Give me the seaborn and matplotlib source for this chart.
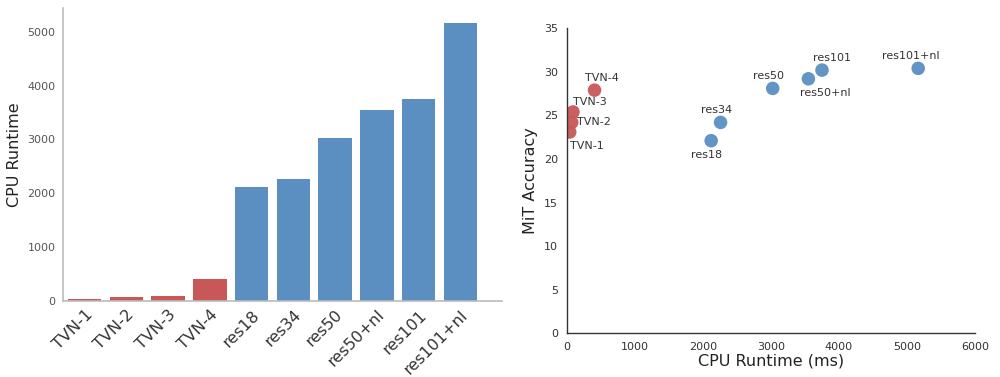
import seaborn as sns
import numpy as np
import pandas as pd
import matplotlib.pyplot as plt

# values
models = ["TVN-1", "TVN-2", "TVN-3", "TVN-4", "res18", "res34",
          "res50", "res50+nl", "res101", "res101+nl"]
family = ["TVN"] * 4 + ["res"] * 6
runtime = [40, 70, 88, 405, 2120, 2258, 3025, 3550, 3750, 5165]
accuracy = [23.1, 24.2, 25.4, 27.9, 22.1, 24.2, 28.1, 29.2, 30.2, 30.4]

# label offsets (points) and alignment for the scatter annotations
label_pos = {
    "TVN-1": (0, -10, "left"),
    "TVN-2": (4, 0, "left"),
    "TVN-3": (0, 7, "left"),
    "TVN-4": (5, 9, "center"),
    "res18": (-3, -10, "center"),
    "res34": (-3, 9, "center"),
    "res50": (-3, 9, "center"),
    "res50+nl": (12, -10, "center"),
    "res101": (7, 9, "center"),
    "res101+nl": (-5, 9, "center"),
}

df = pd.DataFrame({"model": models, "family": family,
                   "runtime": runtime, "accuracy": accuracy})
pal = {"TVN": "#c85858", "res": "#5b8fc1"}

sns.set_style("white")
fig = plt.figure(figsize=(10, 3.77), dpi=100)
ax1 = fig.add_axes([0.063, 0.2016, 0.439, 0.776])
ax2 = fig.add_axes([0.567, 0.116, 0.408, 0.809])

# bar chart
sns.barplot(data=df, x="model", y="runtime", hue="family", palette=pal,
            dodge=False, saturation=1, legend=False, width=0.8, ax=ax1,
            linewidth=0)
ax1.set_xlim(-0.52, 10.0)
ax1.set_ylim(0, 5432)
ax1.set_yticks([0, 1000, 2000, 3000, 4000, 5000])
ax1.set_xlabel("")
ax1.set_ylabel("CPU Runtime", fontsize=11.5, color="#222222")
ax1.tick_params(axis="y", labelsize=8, labelcolor="#555555", pad=2)
ax1.tick_params(axis="x", labelsize=11.5, labelcolor="#333333", pad=1)
plt.setp(ax1.get_xticklabels(), rotation=45, ha="right", rotation_mode="anchor")
for s in ["top", "right"]:
    ax1.spines[s].set_visible(False)
for s in ["left", "bottom"]:
    ax1.spines[s].set_color("#bbbbbb")
    ax1.spines[s].set_linewidth(1.2)

# scatter
sns.scatterplot(data=df, x="runtime", y="accuracy", hue="family", palette=pal,
                s=95, alpha=0.95, edgecolor="none", legend=False, ax=ax2)
for m, x, y in zip(models, runtime, accuracy):
    dx, dy, ha = label_pos[m]
    ax2.annotate(m, (x, y), xytext=(dx, dy), textcoords="offset points",
                 ha=ha, va="center", fontsize=8, color="#333333")
ax2.set_xlim(0, 6000)
ax2.set_ylim(0, 35)
ax2.set_xticks(range(0, 6001, 1000))
ax2.set_yticks(range(0, 36, 5))
ax2.set_xlabel("CPU Runtime (ms)", fontsize=11.5, color="#222222", labelpad=1)
ax2.set_ylabel("MiT Accuracy", fontsize=11.5, color="#222222")
ax2.tick_params(labelsize=8, labelcolor="#333333", pad=3)
for s in ["top", "right"]:
    ax2.spines[s].set_visible(False)
for s in ["left", "bottom"]:
    ax2.spines[s].set_color("#333333")
    ax2.spines[s].set_linewidth(1.0)

fig.savefig("out.png", dpi=100)
